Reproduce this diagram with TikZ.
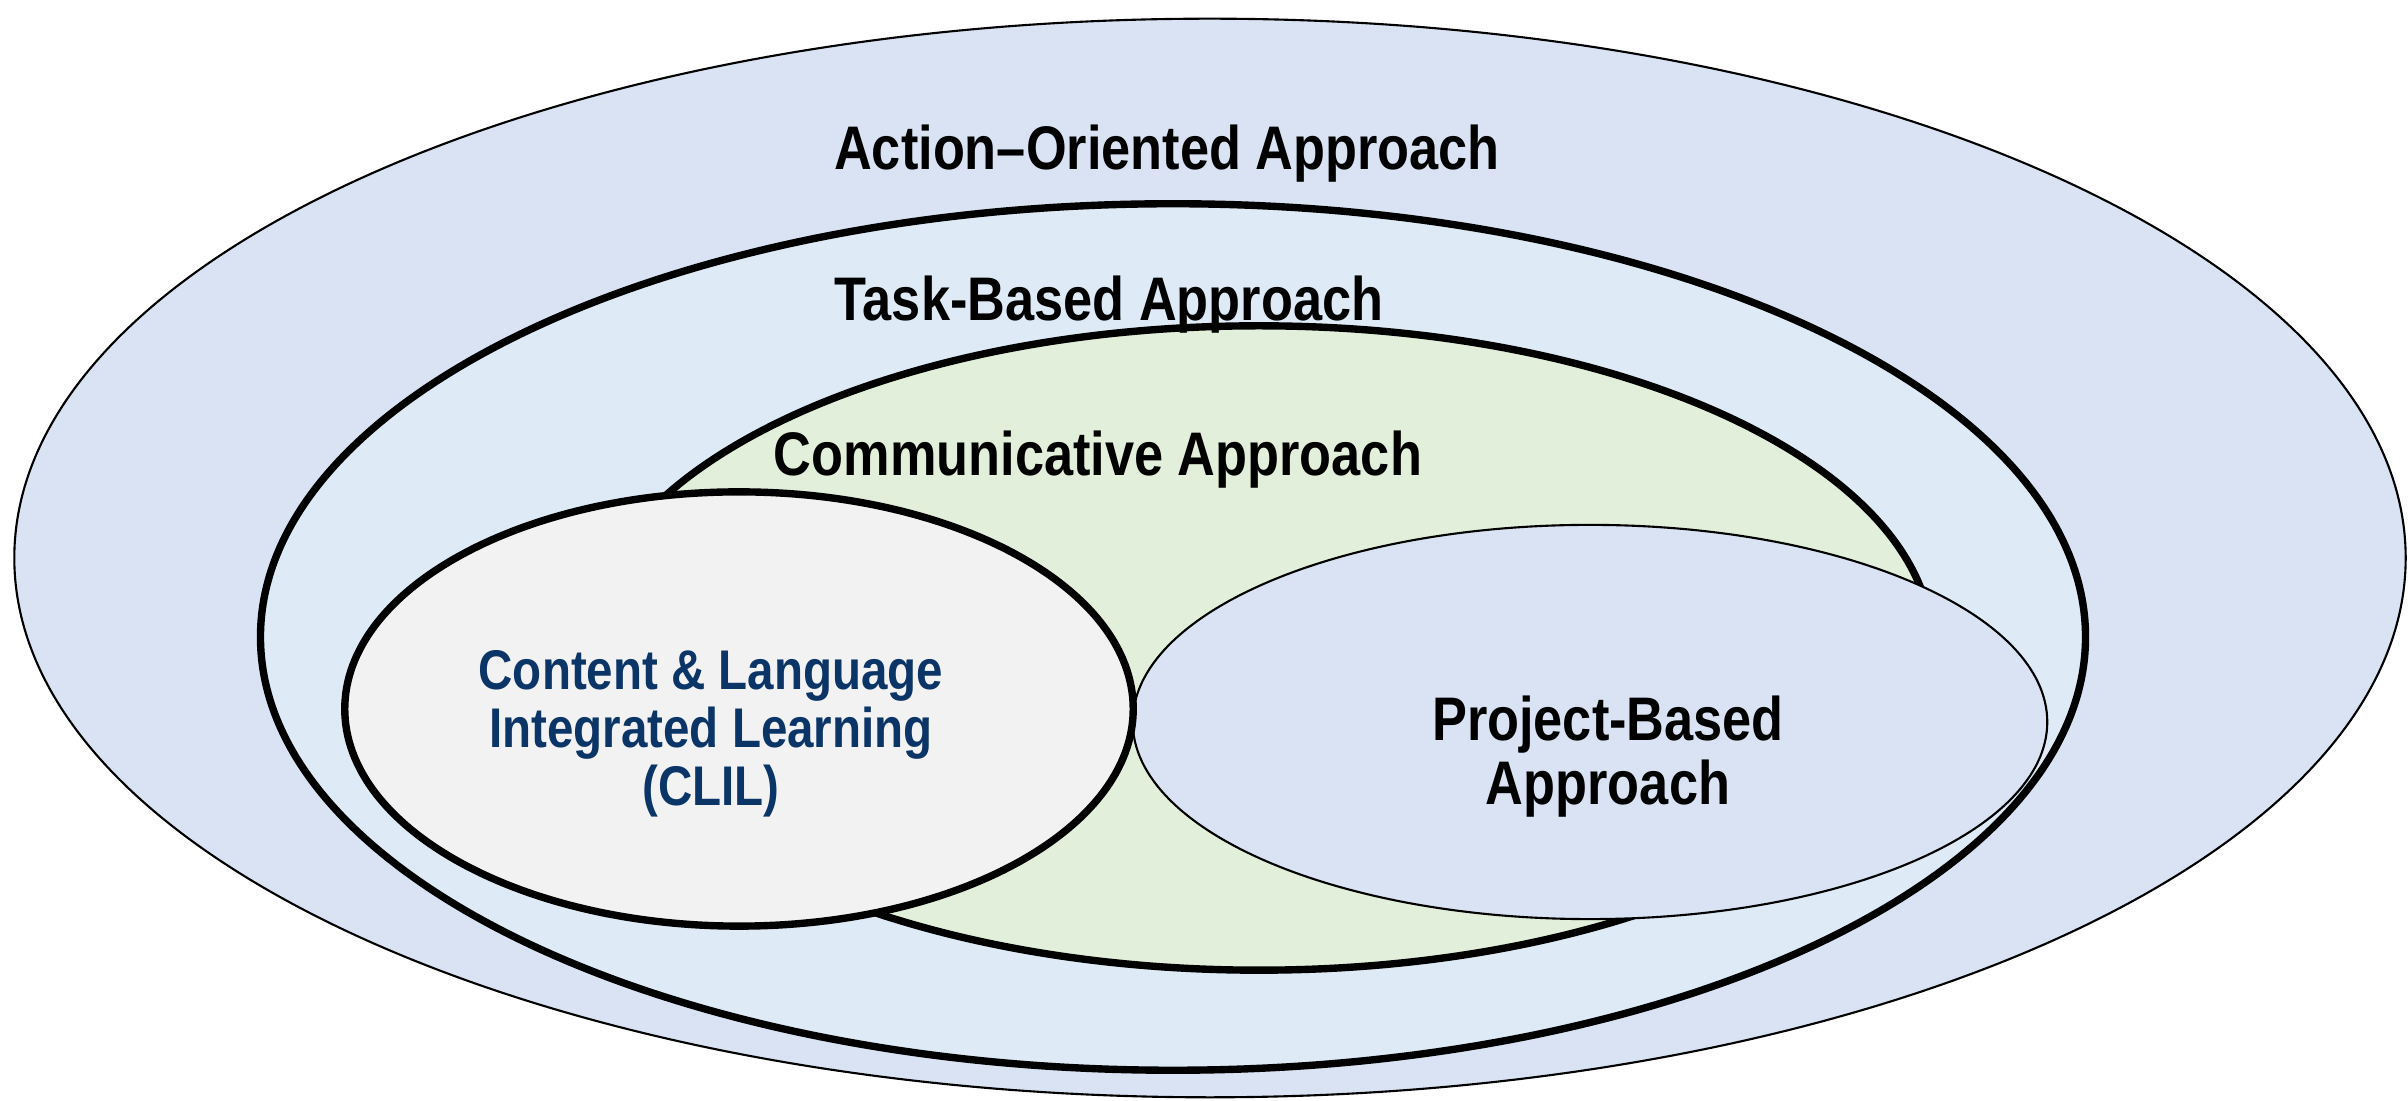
\documentclass[tikz,border=0pt]{standalone}
\usepackage{fontspec}
\setmainfont{Liberation Sans}[FakeStretch=0.85]
\definecolor{outerblue}{HTML}{DAE3F3}
\definecolor{taskblue}{HTML}{DEEAF6}
\definecolor{commgreen}{HTML}{E2EFDA}
\definecolor{clilgray}{HTML}{F2F2F2}
\definecolor{projblue}{HTML}{DAE3F3}
\definecolor{clilnavy}{HTML}{0B3566}
\begin{document}
\begin{tikzpicture}[x=0.01cm,y=-0.01cm,
  thinring/.style={draw=black,line width=0.6pt},
  thickring/.style={draw=black,line width=2.1pt},
  title/.style={font=\fontsize{17.5}{19}\selectfont\bfseries,inner sep=0pt},
  cliltext/.style={font=\fontsize{15.9}{16.5}\selectfont\bfseries,text=clilnavy,align=center,inner sep=0pt},
  projtext/.style={font=\fontsize{17.5}{18.2}\selectfont\bfseries,align=center,inner sep=0pt}]
\useasboundingbox (0,0) rectangle (2408,1101);
\path[thinring,fill=outerblue] (1210,558) ellipse [x radius=11.95cm,y radius=5.39cm];
\path[thickring,fill=taskblue] (1173,637) ellipse [x radius=9.12cm,y radius=4.33cm];
\path[thickring,fill=commgreen] (1259,648) ellipse [x radius=6.73cm,y radius=3.22cm];
\path[thinring,fill=projblue] (1590,722) ellipse [x radius=4.57cm,y radius=1.97cm];
\path[thickring,fill=clilgray] (739,709) ellipse [x radius=3.94cm,y radius=2.17cm];
\node[title] (action) at (1167,154) {Action–Oriented Approach};
\node[title] (task) at (1109,305) {Task-Based Approach};
\node[title] (comm) at (1098,460) {Communicative Approach};
\node[cliltext] (clil) at (711,734) {Content \& Language\\Integrated Learning\\(CLIL)};
\node[projtext] (proj) at (1608,757) {Project-Based\\Approach};
\end{tikzpicture}
\end{document}
